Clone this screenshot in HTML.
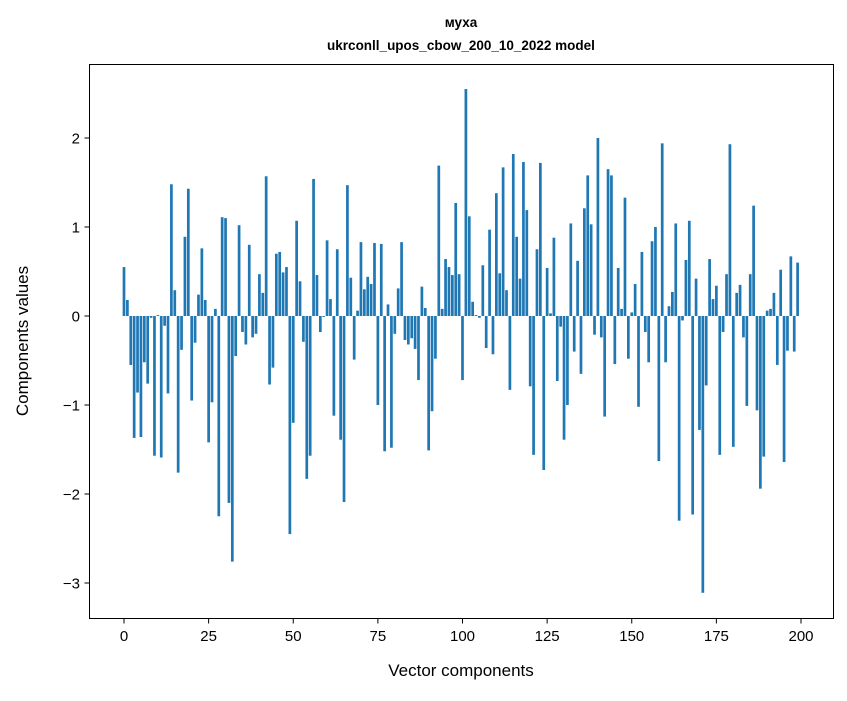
<!DOCTYPE html>
<html><head><meta charset="utf-8"><style>
body{margin:0;background:#fff;}
svg text{font-family:"Liberation Sans","DejaVu Sans",sans-serif;fill:#000;}
</style></head><body>
<svg id="chart" width="847" height="696" viewBox="0 0 847 696" xmlns="http://www.w3.org/2000/svg">
<rect width="847" height="696" fill="#fff"/>
<text x="461" y="27" text-anchor="middle" font-size="13.5" font-weight="bold">муха</text>
<text x="461" y="50" text-anchor="middle" font-size="13.5" font-weight="bold">ukrconll_upos_cbow_200_10_2022 model</text>
<g id="bars"></g>
<rect x="89.5" y="64.5" width="744" height="554" fill="none" stroke="#000" stroke-width="1"/>
<g id="xaxis"></g>
<g id="yaxis"></g>
<text x="461" y="676" text-anchor="middle" font-size="17">Vector components</text>
<text transform="translate(28,341) rotate(-90)" text-anchor="middle" font-size="17">Components values</text>
</svg>
<script>
const values = [0.55,0.18,-0.55,-1.37,-0.86,-1.36,-0.52,-0.76,-0.02,-1.57,
0.01,-1.59,-0.11,-0.87,1.48,0.29,-1.76,-0.38,0.89,1.43,
-0.95,-0.30,0.24,0.76,0.18,-1.42,-0.97,0.08,-2.25,1.11,
1.10,-2.10,-2.76,-0.45,1.02,-0.18,-0.32,0.80,-0.24,-0.20,
0.47,0.26,1.57,-0.77,-0.58,0.70,0.72,0.49,0.55,-2.45,
-1.20,1.07,0.39,-0.29,-1.83,-1.57,1.54,0.46,-0.18,-0.01,
0.85,0.19,-1.12,0.75,-1.39,-2.09,1.47,0.43,-0.49,0.06,
0.83,0.30,0.44,0.36,0.82,-1.00,0.81,-1.52,0.13,-1.48,
-0.20,0.31,0.83,-0.27,-0.32,-0.25,-0.37,-0.72,0.33,0.09,
-1.51,-1.07,-0.48,1.69,0.08,0.64,0.55,0.46,1.27,0.47,
-0.72,2.55,1.12,0.16,0.01,-0.02,0.57,-0.36,0.97,-0.43,
1.38,0.48,1.67,0.29,-0.83,1.82,0.89,0.42,1.73,1.19,
-0.79,-1.56,0.75,1.72,-1.73,0.54,0.03,0.88,-0.73,-0.12,
-1.39,-1.00,1.04,-0.40,0.62,-0.65,1.21,1.58,1.03,-0.21,
2.00,-0.24,-1.13,1.65,1.58,-0.54,0.54,0.08,1.33,-0.48,
0.04,0.36,-1.02,0.72,-0.18,-0.52,0.84,1.00,-1.63,1.94,
-0.52,0.11,0.27,1.04,-2.30,-0.05,0.63,1.07,-2.23,0.42,
-1.28,-3.11,-0.78,0.64,0.19,0.34,-1.56,-0.18,0.47,1.93,
-1.47,0.26,0.35,-0.24,-1.01,0.47,1.24,-1.06,-1.94,-1.58,
0.06,0.08,0.26,-0.55,0.52,-1.64,-0.39,0.67,-0.40,0.60];
const xTicks = [0,25,50,75,100,125,150,175,200];
const yTicks = [-3,-2,-1,0,1,2];
const yTickLabels = ["\u22123","\u22122","\u22121","0","1","2"];

const NS = "http://www.w3.org/2000/svg";
function xs(v){ return 124 + v*3.385; }
function ys(v){ return 316 - v*89; }
const bars = document.getElementById('bars');
values.forEach((v,i)=>{
  const r = document.createElementNS(NS,'rect');
  const y0 = ys(0), y1 = ys(v);
  r.setAttribute('x', xs(i-0.4));
  r.setAttribute('width', 0.8*3.385);
  r.setAttribute('y', Math.min(y0,y1));
  r.setAttribute('height', Math.max(Math.abs(y1-y0),0.3));
  r.setAttribute('fill','#1f77b4');
  
  
  bars.appendChild(r);
});
const xa = document.getElementById('xaxis');
xTicks.forEach(t=>{
  const l = document.createElementNS(NS,'line');
  l.setAttribute('x1', xs(t)); l.setAttribute('x2', xs(t));
  l.setAttribute('y1', 618.5); l.setAttribute('y2', 623.5);
  l.setAttribute('stroke','#000');
  
  
  xa.appendChild(l);
  const tx = document.createElementNS(NS,'text');
  tx.setAttribute('x', xs(t)); tx.setAttribute('y', 641);
  tx.setAttribute('text-anchor','middle'); tx.setAttribute('font-size','15');
  tx.textContent = String(t);
  
  
  xa.appendChild(tx);
});
const ya = document.getElementById('yaxis');
yTicks.forEach((t,k)=>{
  const l = document.createElementNS(NS,'line');
  l.setAttribute('x1', 84.5); l.setAttribute('x2', 89.5);
  l.setAttribute('y1', ys(t)); l.setAttribute('y2', ys(t));
  l.setAttribute('stroke','#000');
  
  
  ya.appendChild(l);
  const tx = document.createElementNS(NS,'text');
  tx.setAttribute('x', 80); tx.setAttribute('y', ys(t)+5.5);
  tx.setAttribute('text-anchor','end'); tx.setAttribute('font-size','15');
  tx.textContent = yTickLabels[k];
  
  
  ya.appendChild(tx);
});
</script>
</body></html>
